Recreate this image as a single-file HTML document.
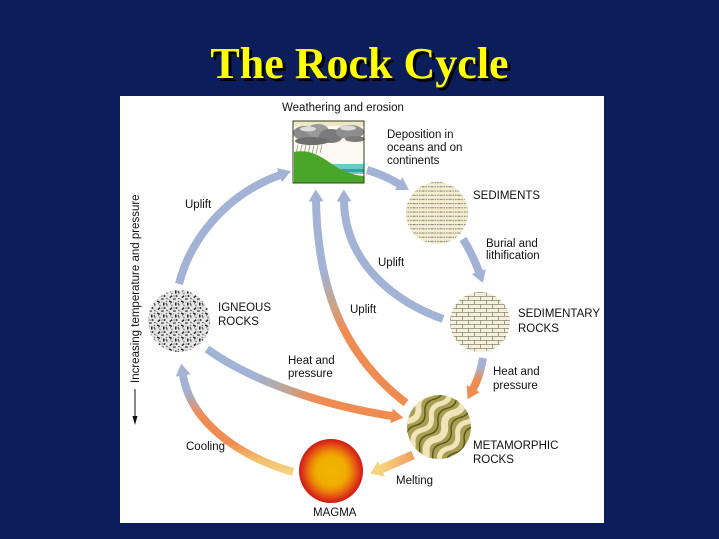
<!DOCTYPE html>
<html><head><meta charset="utf-8"><style>
html,body{margin:0;padding:0;background:#0b1e5b;}
#wrap{position:relative;width:719px;height:539px;overflow:hidden;background:#0b1e5b;}
#title{position:absolute;left:0;top:42px;width:719px;text-align:center;font-family:"Liberation Serif",serif;font-weight:bold;font-size:44px;line-height:44px;color:#ffff00;text-shadow:3px 3px 0 #000;}
svg{position:absolute;left:0;top:0;}
svg text{font-family:"Liberation Sans",sans-serif;font-size:11.5px;fill:#111;}
</style></head><body><div id="wrap">
<svg width="719" height="539" viewBox="0 0 719 539">
<defs>
<marker id="hb" markerUnits="userSpaceOnUse" markerWidth="12" markerHeight="15" viewBox="0 0 12 15" refX="0.5" refY="7.5" orient="auto"><path d="M0,0 L12,7.5 L0,15 z" fill="#a2b3d6"/></marker>
<marker id="ho" markerUnits="userSpaceOnUse" markerWidth="12" markerHeight="15" viewBox="0 0 12 15" refX="0.5" refY="7.5" orient="auto"><path d="M0,0 L12,7.5 L0,15 z" fill="#ef8c52"/></marker>
<marker id="hy" markerUnits="userSpaceOnUse" markerWidth="12" markerHeight="17" viewBox="0 0 12 17" refX="0.5" refY="8.5" orient="auto"><path d="M0,0 L12,8.5 L0,17 z" fill="#f5d47e"/></marker>
<linearGradient id="gUp" gradientUnits="userSpaceOnUse" x1="0" y1="200" x2="0" y2="403">
<stop offset="0" stop-color="#a2b3d6"/><stop offset="0.35" stop-color="#a2b3d6"/><stop offset="0.5" stop-color="#c4a690"/><stop offset="0.65" stop-color="#ef8c52"/><stop offset="1" stop-color="#ef8c52"/></linearGradient>
<linearGradient id="gHL" gradientUnits="userSpaceOnUse" x1="207" y1="0" x2="400" y2="0">
<stop offset="0" stop-color="#a2b3d6"/><stop offset="0.24" stop-color="#a2b3d6"/><stop offset="0.4" stop-color="#bca79a"/><stop offset="0.55" stop-color="#ef8c52"/><stop offset="1" stop-color="#ef8c52"/></linearGradient>
<linearGradient id="gHR" gradientUnits="userSpaceOnUse" x1="0" y1="358" x2="0" y2="392">
<stop offset="0" stop-color="#a2b3d6"/><stop offset="0.25" stop-color="#a2b3d6"/><stop offset="0.65" stop-color="#ef8c52"/><stop offset="1" stop-color="#ef8c52"/></linearGradient>
<linearGradient id="gM" gradientUnits="userSpaceOnUse" x1="413" y1="0" x2="381" y2="0">
<stop offset="0" stop-color="#f0a062"/><stop offset="1" stop-color="#f5d47e"/></linearGradient>
<linearGradient id="gC" gradientUnits="userSpaceOnUse" x1="0" y1="474" x2="0" y2="372">
<stop offset="0" stop-color="#f5d480"/><stop offset="0.15" stop-color="#f3bd6c"/><stop offset="0.3" stop-color="#ef8c52"/><stop offset="0.58" stop-color="#ef8c52"/><stop offset="0.75" stop-color="#b4a9b6"/><stop offset="0.85" stop-color="#a2b3d6"/><stop offset="1" stop-color="#a2b3d6"/></linearGradient>
<radialGradient id="mag" cx="0.5" cy="0.5" r="0.5">
<stop offset="0" stop-color="#f0b400"/><stop offset="0.45" stop-color="#f0ae00"/><stop offset="0.56" stop-color="#ee9a02"/><stop offset="0.68" stop-color="#e97a0c"/><stop offset="0.8" stop-color="#e35314"/><stop offset="0.9" stop-color="#da3318"/><stop offset="1" stop-color="#cc1c12"/></radialGradient>
<pattern id="ign" patternUnits="userSpaceOnUse" width="12" height="12">
<rect width="12" height="12" fill="#e6e6e6"/>
<rect x="1" y="1" width="3" height="1.4" fill="#111" transform="rotate(30 2.5 1.6)"/>
<rect x="7" y="2.5" width="1.5" height="3" fill="#222"/>
<circle cx="10.5" cy="1.5" r="0.8" fill="#777"/>
<circle cx="4" cy="5.5" r="0.9" fill="#888"/>
<rect x="1.5" y="8" width="2.8" height="1.3" fill="#111" transform="rotate(-40 3 8.6)"/>
<circle cx="8.5" cy="8" r="1" fill="#333"/>
<circle cx="11" cy="10.5" r="0.8" fill="#555"/>
<rect x="5" y="10.5" width="2.8" height="1.1" fill="#222"/>
<circle cx="1" cy="11.5" r="0.6" fill="#999"/>
<circle cx="6" cy="8" r="0.6" fill="#444"/>
<circle cx="11" cy="5.5" r="0.8" fill="#888"/>
<circle cx="2.5" cy="3.8" r="0.6" fill="#555"/>
<rect x="9.5" y="3.5" width="2" height="1" fill="#222" transform="rotate(50 10.5 4)"/>
<circle cx="5.5" cy="2" r="0.5" fill="#666"/>
</pattern>
<pattern id="sed" patternUnits="userSpaceOnUse" width="9" height="4.2">
<rect width="9" height="4.2" fill="#f4edcf"/>
<line x1="0" y1="2" x2="9" y2="2" stroke="#666" stroke-width="0.8" stroke-dasharray="1.6 0.9"/>
</pattern>
<pattern id="brk" patternUnits="userSpaceOnUse" width="12" height="8">
<rect width="12" height="8" fill="#f3f0dc"/>
<path d="M0,0.4 H12 M0,4.4 H12 M0.4,0.4 V4.4 M6.4,4.4 V8.4" stroke="#8c8470" stroke-width="0.8" fill="none"/>
</pattern>
<clipPath id="mc"><circle cx="439" cy="427" r="32"/></clipPath>
<path id="wv" d="M-60,0 q8,-7 16,0 t16,0 t16,0 t16,0 t16,0 t16,0 t16,0 t16,0"/>
</defs>

<!-- panel -->
<rect x="120" y="96" width="484" height="427" fill="#ffffff"/>

<!-- weathering image -->
<g>
<rect x="293" y="121" width="71" height="62" fill="#fbf9f0"/>
<rect x="293" y="121" width="71" height="5" fill="#efe6c6"/>
<ellipse cx="305" cy="133" rx="12" ry="7" fill="#8a8a8a"/>
<ellipse cx="318" cy="131" rx="11" ry="7" fill="#9a9a9a"/>
<ellipse cx="331" cy="136" rx="12" ry="7" fill="#7a7a7a"/>
<ellipse cx="312" cy="141" rx="17" ry="4" fill="#6e6e6e"/>
<ellipse cx="350" cy="132" rx="14" ry="7" fill="#8e8e8e"/>
<ellipse cx="355" cy="139" rx="10" ry="3" fill="#7a7a7a"/>
<ellipse cx="308" cy="129" rx="8" ry="2.5" fill="#dcdcdc"/>
<ellipse cx="348" cy="128" rx="8" ry="2.5" fill="#dcdcdc"/>
<path d="M298,145 l-2,8 M302,145 l-2,9 M306,145 l-2,9 M310,145 l-2,9 M314,145 l-2,9 M318,145 l-2,9 M322,145 l-2,8" stroke="#999" stroke-width="0.8"/>
<rect x="330" y="164" width="34" height="10" fill="#6cc8c2"/>
<rect x="330" y="169" width="34" height="3" fill="#3a9fa0"/>
<path d="M294,152 C310,149 320,156 332,164 C342,171 352,175 364,176 L364,183 L294,183 z" fill="#4aa628"/>
<rect x="293" y="121" width="71" height="62" fill="none" stroke="#2f3f1c" stroke-width="1"/>
</g>

<!-- arrows -->
<path d="M179,284 C190,240 225,195 280,175" stroke="#a2b3d6" stroke-width="8" fill="none" marker-end="url(#hb)"/>
<path d="M367,170 Q384,175 399,184" stroke="#a2b3d6" stroke-width="8" fill="none" marker-end="url(#hb)"/>
<path d="M463,239 Q473,255 479,272" stroke="#a2b3d6" stroke-width="8" fill="none" marker-end="url(#hb)"/>
<path d="M443,319 C390,300 345,260 344,201" stroke="#a2b3d6" stroke-width="8" fill="none" marker-end="url(#hb)"/>
<path d="M406,403 C350,360 318,300 316,201" stroke="url(#gUp)" stroke-width="8" fill="none" marker-end="url(#hb)"/>
<path d="M207,349 C250,380 320,405 392,416" stroke="url(#gHL)" stroke-width="8" fill="none" marker-end="url(#ho)"/>
<path d="M483,358 Q480,376 473,389" stroke="url(#gHR)" stroke-width="8" fill="none" marker-end="url(#ho)"/>
<path d="M413,455 L381,469" stroke="url(#gM)" stroke-width="9" fill="none" marker-end="url(#hy)"/>
<path d="M293,472 C235,455 190,420 183,375" stroke="url(#gC)" stroke-width="8" fill="none" marker-end="url(#hb)"/>

<!-- circles -->
<circle cx="179" cy="321" r="31" fill="url(#ign)"/>
<circle cx="437" cy="213" r="31" fill="url(#sed)"/>
<circle cx="480" cy="322" r="30" fill="url(#brk)"/>
<circle cx="331" cy="471" r="32" fill="url(#mag)"/>
<g clip-path="url(#mc)">
<circle cx="439" cy="427" r="32" fill="#a99d52"/>
<g transform="translate(439,427) rotate(-55)" fill="none">
<use href="#wv" transform="translate(0,-28)" stroke="#efe4ba" stroke-width="6"/>
<use href="#wv" transform="translate(0,-12)" stroke="#efe4ba" stroke-width="5"/>
<use href="#wv" transform="translate(0,4)" stroke="#efe4ba" stroke-width="7"/>
<use href="#wv" transform="translate(0,20)" stroke="#efe4ba" stroke-width="5"/>
<use href="#wv" transform="translate(0,-36)" stroke="#55561c" stroke-width="1.4"/>
<use href="#wv" transform="translate(0,-20)" stroke="#55561c" stroke-width="1.4"/>
<use href="#wv" transform="translate(0,-4)" stroke="#55561c" stroke-width="1.4"/>
<use href="#wv" transform="translate(0,12)" stroke="#55561c" stroke-width="1.4"/>
<use href="#wv" transform="translate(0,28)" stroke="#55561c" stroke-width="1.4"/>
</g>
</g>

<!-- labels -->
<text x="282" y="111">Weathering and erosion</text>
<text x="387" y="138">Deposition in</text>
<text x="387" y="151">oceans and on</text>
<text x="387" y="164">continents</text>
<text x="473" y="199">SEDIMENTS</text>
<text x="486" y="247">Burial and</text>
<text x="486" y="259">lithification</text>
<text x="185" y="208">Uplift</text>
<text x="378" y="266">Uplift</text>
<text x="350" y="313">Uplift</text>
<text x="218" y="311">IGNEOUS</text>
<text x="218" y="325">ROCKS</text>
<text x="518" y="317">SEDIMENTARY</text>
<text x="518" y="332">ROCKS</text>
<text x="288" y="364">Heat and</text>
<text x="288" y="377">pressure</text>
<text x="493" y="375">Heat and</text>
<text x="493" y="389">pressure</text>
<text x="473" y="449">METAMORPHIC</text>
<text x="473" y="463">ROCKS</text>
<text x="186" y="450">Cooling</text>
<text x="396" y="484">Melting</text>
<text x="313" y="516">MAGMA</text>
<text x="139" y="383" transform="rotate(-90 139 383)">Increasing temperature and pressure</text>
<line x1="135" y1="389" x2="135" y2="417" stroke="#111" stroke-width="1"/>
<polygon points="132.5,416 137.5,416 135,425" fill="#111"/>
</svg>
<div id="title">The Rock Cycle</div>
</div></body></html>
